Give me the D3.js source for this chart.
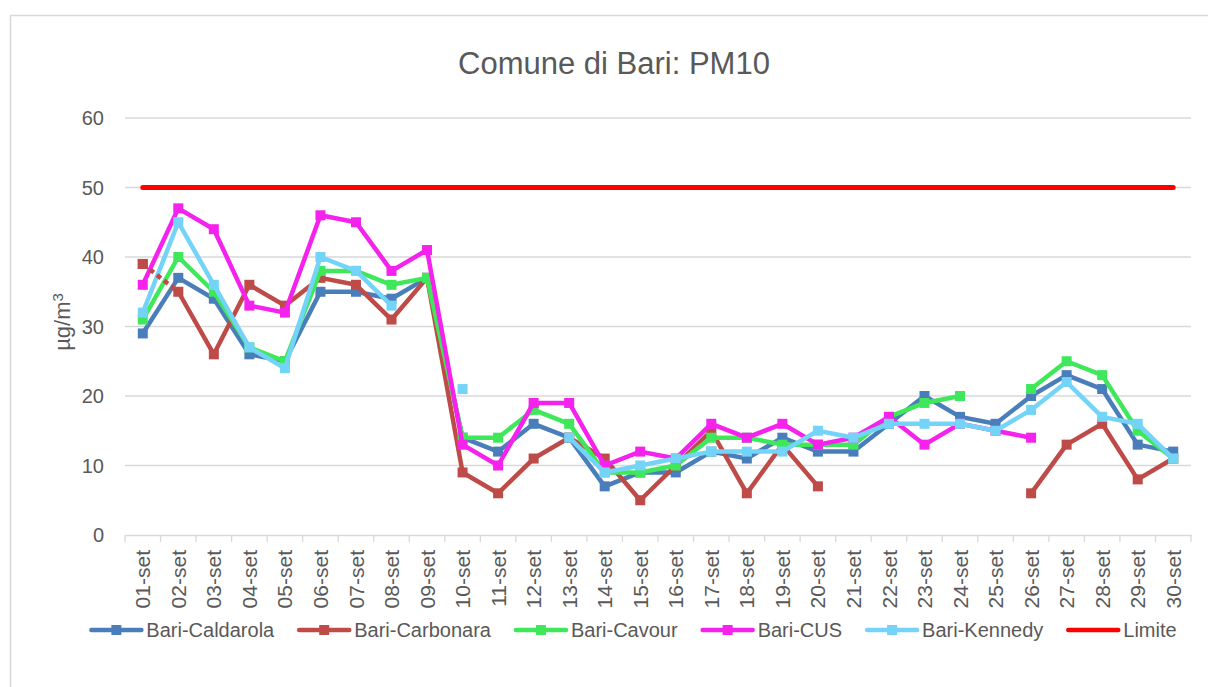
<!DOCTYPE html>
<html>
<head>
	<meta charset="utf-8">
	<title>Comune di Bari: PM10</title>
	<script src="https://cdn.jsdelivr.net/npm/d3@7"></script>
</head>
<style type="text/css">
	body { margin:0; background-color:#ffffff; }
	text { font-family: "Liberation Sans", Arial, sans-serif; fill:#595959; }
</style>
<body>

</body>
</html>
<script type="text/javascript">
	var width = 1208;
	var height = 687;

	// giorni di settembre
	var days = ["01-set","02-set","03-set","04-set","05-set","06-set","07-set","08-set","09-set","10-set",
		"11-set","12-set","13-set","14-set","15-set","16-set","17-set","18-set","19-set","20-set",
		"21-set","22-set","23-set","24-set","25-set","26-set","27-set","28-set","29-set","30-set"];

	// valori PM10 (µg/m³), null = dato mancante
	var caldarola = [29,37,34,26,25,35,35,34,37,14,12,16,14,7,9,9,12,11,14,12,12,16,20,17,16,20,23,21,13,12];
	var carbonara = [39,35,26,36,33,37,36,31,37,9,6,11,14,11,5,10,15,6,13,7,null,null,null,null,null,6,13,16,8,11];
	var cavour    = [31,40,35,27,25,38,38,36,37,14,14,18,16,9,9,10,14,14,13,13,13,17,19,20,null,21,25,23,15,11];
	var cus       = [36,47,44,33,32,46,45,38,41,13,10,19,19,10,12,11,16,14,16,13,14,17,13,16,15,14,null,null,null,null];
	var kennedy   = [32,45,36,27,24,40,38,33,null,21,null,null,14,9,10,11,12,12,12,15,14,16,16,16,15,18,22,17,16,11];
	var limite    = [50,50,50,50,50,50,50,50,50,50,50,50,50,50,50,50,50,50,50,50,50,50,50,50,50,50,50,50,50,50];

	var seriesNames = ["Bari-Caldarola","Bari-Carbonara","Bari-Cavour","Bari-CUS","Bari-Kennedy","Limite"];
	var seriesValues = [caldarola, carbonara, cavour, cus, kennedy, limite];
	var seriesColors = ["#4a7ebb","#be4b48","#3ee85a","#f522ee","#74d4f8","#ff0000"];
	var yTicks = [0,10,20,30,40,50,60];
	// segmento 01-02 di Carbonara tratteggiato nell'originale
	var dashedCarbonara = [0];

	var plot = {left:125, right:1191, top:118, bottom:535};

	var svg = d3.select("body").append("svg").attr("width", width).attr("height", height);

	// cornice del grafico
	svg.append("rect").attr("x", 10.5).attr("y", 15.5).attr("width", 1400).attr("height", 1000)
		.attr("fill", "none").attr("stroke", "#d9d9d9").attr("stroke-width", 1.5);

	var x = d3.scaleBand().domain(days).range([plot.left, plot.right]);
	var y = d3.scaleLinear().domain([0, 60]).range([plot.bottom, plot.top]);
	var cx = function(i){ return x(days[i]) + x.bandwidth()/2; };

	// griglia orizzontale
	svg.append("g").selectAll("line").data(yTicks.filter(function(d){return d > 0;})).enter().append("line")
		.attr("x1", plot.left).attr("x2", plot.right)
		.attr("y1", function(d){return y(d)}).attr("y2", function(d){return y(d)})
		.attr("stroke", "#d9d9d9").attr("stroke-width", 1.3);

	// etichette asse y
	svg.append("g").selectAll("text").data(yTicks).enter().append("text")
		.attr("x", 104).attr("y", function(d){return y(d)}).attr("dy", "0.36em")
		.attr("text-anchor", "end").style("font-size", "20px").text(function(d){return d});

	// asse x con tacche tra le categorie
	var xAxis = svg.append("g").attr("transform", "translate(0," + plot.bottom + ")")
		.call(d3.axisBottom(x).tickSize(0).tickFormat(""));
	xAxis.select(".domain").attr("stroke", "#d9d9d9").attr("stroke-width", 1.3);
	xAxis.selectAll(".tick").remove();
	var edges = days.map(function(d){return x(d)}).concat([plot.right]);
	xAxis.selectAll("line.sep").data(edges).enter().append("line").attr("class", "sep")
		.attr("x1", function(d){return d}).attr("x2", function(d){return d})
		.attr("y1", 0).attr("y2", 7).attr("stroke", "#d9d9d9").attr("stroke-width", 1.3);
	xAxis.selectAll("text.lab").data(days).enter().append("text").attr("class", "lab")
		.attr("transform", function(d){return "translate(" + (x(d) + x.bandwidth()/2) + ",15) rotate(-90)"})
		.attr("dy", "0.36em").attr("text-anchor", "end").style("font-size", "21px").text(function(d){return d});

	// titolo asse y
	var yt = svg.append("text").attr("transform", "translate(70,322) rotate(-90)")
		.attr("text-anchor", "middle").style("font-size", "22px");
	yt.append("tspan").text("µg/m");
	yt.append("tspan").attr("dy", "-0.5em").style("font-size", "15px").text("3");

	// titolo
	svg.append("text").attr("x", 614).attr("y", 74).attr("text-anchor", "middle")
		.style("font-size", "31px").text("Comune di Bari: PM10");

	var line = d3.line()
		.defined(function(d){return d != null})
		.x(function(d, i){return cx(i)})
		.y(function(d){return y(d)});

	seriesValues.forEach(function(vals, s){
		var g = svg.append("g");
		var isLimit = seriesNames[s] == "Limite";
		var lineVals = vals;
		if (s == 1) {
			// il tratto pieno parte dal secondo punto
			lineVals = vals.map(function(d, i){return i < 1 ? null : d});
		}
		g.append("path").datum(lineVals)
			.attr("d", line)
			.attr("fill", "none").attr("stroke", seriesColors[s])
			.attr("stroke-width", isLimit ? 5 : 4.5)
			.attr("stroke-linejoin", "round").attr("stroke-linecap", "round");
		if (!isLimit) {
			g.selectAll("rect").data(vals.map(function(d, i){return {v:d, i:i}}).filter(function(d){return d.v != null}))
				.enter().append("rect")
				.attr("x", function(d){return cx(d.i) - 5}).attr("y", function(d){return y(d.v) - 5})
				.attr("width", 10).attr("height", 10).attr("fill", seriesColors[s]);
		}
	});

	// tratto tratteggiato di Carbonara, sopra le altre serie
	dashedCarbonara.forEach(function(i){
		svg.append("path").datum([carbonara[i], carbonara[i+1]])
			.attr("d", d3.line().x(function(d, j){return cx(i + j)}).y(function(d){return y(d)}))
			.attr("fill", "none").attr("stroke", seriesColors[1]).attr("stroke-width", 4.5)
			.attr("stroke-dasharray", "5,4");
		svg.append("rect").attr("x", cx(i) - 5).attr("y", y(carbonara[i]) - 5)
			.attr("width", 10).attr("height", 10).attr("fill", seriesColors[1]);
	});

	// legenda
	var legend = svg.append("g");
	var items = legend.selectAll("g").data(seriesNames).enter().append("g");
	items.append("line").attr("x1", 0).attr("x2", 50).attr("y1", 0).attr("y2", 0)
		.attr("stroke", function(d, i){return seriesColors[i]}).attr("stroke-width", 4.5)
		.attr("stroke-linecap", "round");
	items.filter(function(d){return d != "Limite"}).append("rect")
		.attr("x", 20).attr("y", -5).attr("width", 10).attr("height", 10)
		.attr("fill", function(d){return seriesColors[seriesNames.indexOf(d)]});
	items.append("text").attr("x", 55).attr("dy", "0.36em").style("font-size", "20px").text(function(d){return d});
	var pos = 0, offsets = [];
	items.each(function(){
		offsets.push(pos);
		pos += 55 + d3.select(this).select("text").node().getComputedTextLength() + 25;
	});
	var total = pos - 25;
	var startX = 634 - total/2;
	items.attr("transform", function(d, i){return "translate(" + (startX + offsets[i]) + ",630)"});
</script>
